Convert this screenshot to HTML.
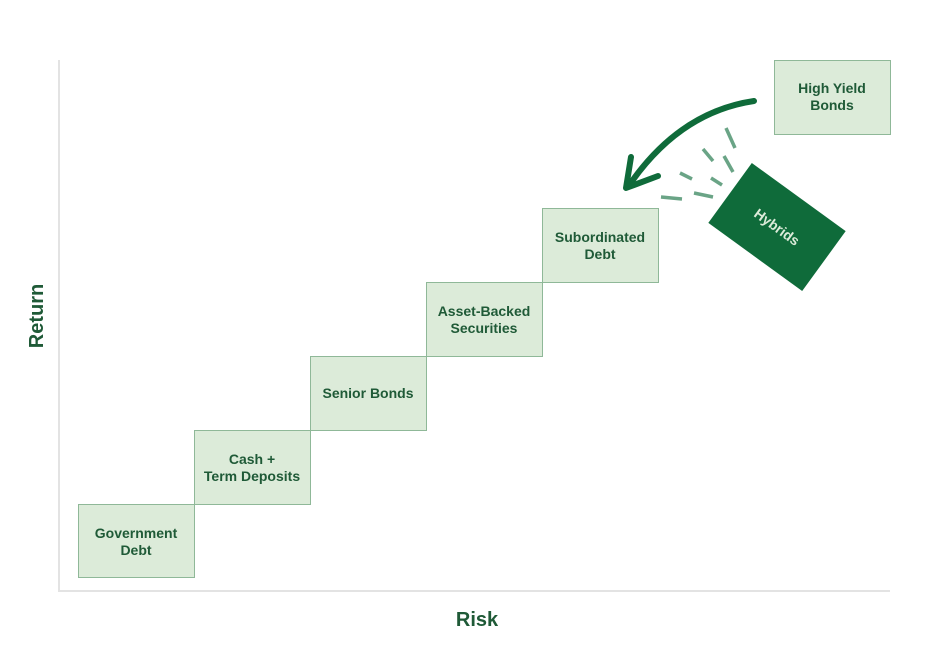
<!DOCTYPE html>
<html><head><meta charset="utf-8"><style>
body{margin:0;background:#fff;width:926px;height:663px;overflow:hidden;font-family:"Liberation Sans",sans-serif}
</style></head><body>
<svg width="926" height="663" xmlns="http://www.w3.org/2000/svg" font-family="Liberation Sans, sans-serif" font-weight="bold">
<line x1="59" y1="60" x2="59" y2="591" stroke="#e3e3e3" stroke-width="2"/>
<line x1="58" y1="591" x2="890" y2="591" stroke="#e3e3e3" stroke-width="2"/>
<g fill="#dcebd9" stroke="#8fb898" stroke-width="1">
<rect x="78.5" y="504.5" width="116" height="73"/>
<rect x="194.5" y="430.5" width="116" height="74"/>
<rect x="310.5" y="356.5" width="116" height="74"/>
<rect x="426.5" y="282.5" width="116" height="74"/>
<rect x="542.5" y="208.5" width="116" height="74"/>
<rect x="774.5" y="60.5" width="116" height="74"/>
</g>
<g fill="#1f5a37" font-size="14" text-anchor="middle">
<text x="136" y="538">Government</text><text x="136" y="555">Debt</text>
<text x="252" y="464">Cash +</text><text x="252" y="481">Term Deposits</text>
<text x="368" y="398">Senior Bonds</text>
<text x="484" y="316">Asset-Backed</text><text x="484" y="333">Securities</text>
<text x="600" y="242">Subordinated</text><text x="600" y="259">Debt</text>
<text x="832" y="93">High Yield</text><text x="832" y="110">Bonds</text>
</g>
<g transform="translate(777,227) rotate(36)">
<rect x="-58" y="-37" width="116" height="74" fill="#0f6b3a"/>
<text x="0" y="5" fill="#dcebd9" font-size="14" text-anchor="middle">Hybrids</text>
</g>
<path d="M754,101 Q680,112 630,184" fill="none" stroke="#0f6b3a" stroke-width="6" stroke-linecap="round"/>
<path d="M631,157 L626,188 L658,176" fill="none" stroke="#0f6b3a" stroke-width="6" stroke-linecap="round" stroke-linejoin="round"/>
<g stroke="#6aa486" stroke-width="3.5">
<line x1="726" y1="128" x2="735" y2="148"/>
<line x1="703" y1="149" x2="713" y2="161"/>
<line x1="724" y1="156" x2="733" y2="172"/>
<line x1="680" y1="173" x2="692" y2="179"/>
<line x1="711" y1="178" x2="722" y2="185"/>
<line x1="661" y1="197" x2="682" y2="199"/>
<line x1="694" y1="193" x2="713" y2="197"/>
</g>
<text x="36" y="316" fill="#1f5a37" font-size="20" text-anchor="middle" transform="rotate(-90 36 316)" dy="7">Return</text>
<text x="477" y="626" fill="#1f5a37" font-size="20" text-anchor="middle">Risk</text>
</svg>
</body></html>
